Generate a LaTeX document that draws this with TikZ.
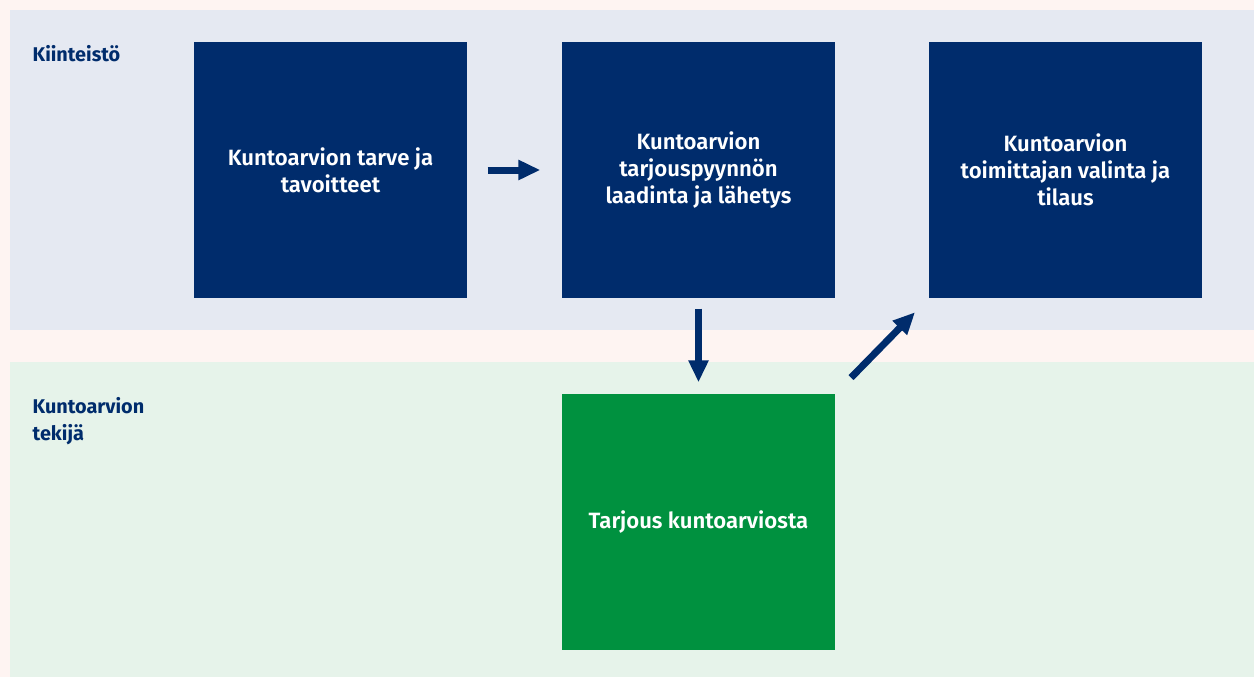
\documentclass[tikz,border=0pt]{standalone}
\usepackage{fontspec}
\setmainfont{Fira Sans}[BoldFont={Fira Sans SemiBold}]
\newfontfamily\lanefont{Fira Sans Bold}
\usetikzlibrary{arrows.meta}
\definecolor{kblue}{HTML}{002C6C}
\definecolor{kgreen}{HTML}{00913F}
\definecolor{bandblue}{HTML}{E5E9F2}
\definecolor{bandgreen}{HTML}{E6F3EA}
\definecolor{bgpink}{HTML}{FEF4F2}
\begin{document}
\begin{tikzpicture}[x=0.02cm, y=-0.02cm, thick,
	phase/.style={fill=kblue, minimum width=5.46cm, minimum height=5.12cm, inner sep=0pt,
		text=white, font=\bfseries\fontsize{12.6}{15.3}\selectfont, align=center},
	lane/.style={text=kblue, font=\lanefont\fontsize{11.3}{15.3}\selectfont, align=left,
		anchor=north west, inner sep=0pt},
	flow/.style={-{Triangle[length=0.44cm, width=0.38cm]}, kblue, line width=0.14cm}
	]
	
	% lanes
	\fill[bgpink] (0,0) rectangle (1254,677);
	\fill[bandblue] (10,10) rectangle (1254,330);
	\fill[bandgreen] (10,362) rectangle (1254,677);
	\node [lane] (l1) at (32,45) {Kiinteistö};
	\node [lane] (l2) at (32,397) {Kuntoarvion\\tekijä};
	
	% steps
	\node [phase] (a) at (330.5,170) {Kuntoarvion tarve ja\\tavoitteet};
	\node [phase] (b) at (698.5,170) {Kuntoarvion\\tarjouspyynnön\\laadinta ja lähetys};
	\node [phase] (c) at (1065.5,170) {Kuntoarvion\\toimittajan valinta ja\\tilaus};
	\node [phase, fill=kgreen] (d) at (698.5,522) {Tarjous kuntoarviosta};
	
	\draw [flow, shorten <=0.4cm, shorten >=0.42cm] (a) -- (b);
	\draw [flow, shorten <=0.2cm, shorten >=0.22cm] (b) -- (d);
	\draw [flow, shorten <=0.44cm, shorten >=0.38cm] (d.north east) -- (c.south west);
\end{tikzpicture}
\end{document}
